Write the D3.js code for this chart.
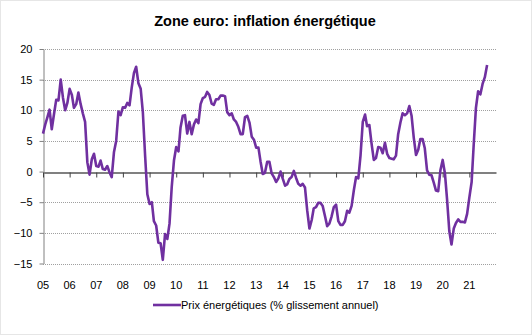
<!DOCTYPE html>
<html>
<head>
<meta charset="utf-8">
<script src="https://cdn.jsdelivr.net/npm/d3@7/dist/d3.min.js"></script>
<style>
  html, body { margin: 0; padding: 0; background: #fff; }
  svg { display: block; font-family: "Liberation Sans", Arial, sans-serif; }
</style>
</head>
<body>
<div id="chart"></div>
<script>
// Zone euro : inflation des prix de l'énergie, glissement annuel mensuel
const startYear = 2005;
const energy2005 = [6.2, 7.7, 8.8, 10.1, 6.9, 9.4, 11.7, 11.6, 15.0, 12.1, 10.0, 11.2];
const energy2006 = [13.5, 12.5, 10.4, 11.0, 12.9, 11.0, 9.5, 8.1, 1.5, -0.5, 2.0, 2.9];
const energy2007 = [0.9, 0.8, 1.8, 0.4, 0.3, 0.9, -0.1, -0.9, 3.2, 5.0, 9.8, 9.2];
const energy2008 = [10.5, 10.4, 11.2, 10.8, 13.7, 16.1, 17.1, 14.4, 13.5, 9.6, 2.5, -3.7];
const energy2009 = [-5.3, -5.0, -8.1, -8.8, -11.6, -11.7, -14.4, -10.2, -11.0, -8.5, -2.4, 1.8];
const energy2010 = [4.0, 3.3, 7.2, 9.1, 9.2, 6.2, 8.1, 6.1, 7.7, 8.5, 7.9, 11.0];
const energy2011 = [12.0, 12.2, 13.0, 12.5, 11.1, 10.9, 11.8, 11.8, 12.4, 12.4, 12.3, 9.7];
const energy2012 = [9.2, 9.5, 8.5, 8.1, 7.3, 6.1, 6.1, 8.9, 9.1, 8.0, 5.7, 5.2];
const energy2013 = [3.9, 3.9, 1.7, -0.4, -0.2, 1.6, 1.6, -0.3, -0.9, -1.7, -1.1, 0.0];
const energy2014 = [-1.2, -2.3, -2.1, -1.2, -0.9, 0.1, -1.0, -2.0, -2.3, -2.0, -2.6, -6.3];
const energy2015 = [-9.3, -7.9, -6.0, -5.8, -5.1, -5.1, -5.6, -7.2, -8.9, -8.5, -7.3, -5.8];
const energy2016 = [-5.4, -8.1, -8.7, -8.7, -8.1, -6.4, -6.7, -5.6, -3.0, -0.9, -1.1, 2.6];
const energy2017 = [8.1, 9.3, 7.4, 7.6, 4.6, 1.9, 2.2, 4.0, 3.9, 3.0, 4.7, 2.9];
const energy2018 = [2.2, 2.1, 2.0, 2.6, 6.1, 8.0, 9.5, 9.2, 9.5, 10.7, 9.1, 5.5];
const energy2019 = [2.7, 3.6, 5.3, 5.3, 3.8, 0.2, -0.5, -0.6, -1.8, -3.1, -3.2, 0.2];
const energy2020 = [1.9, -0.3, -4.5, -9.7, -11.9, -9.3, -8.4, -7.8, -8.2, -8.2, -8.3, -6.9];
const energy2021 = [-4.2, -1.7, 4.3, 10.4, 13.1, 12.6, 14.3, 15.4, 17.4];

const yTicks = [20, 15, 10, 5, 0, -5, -10, -15];
const xYears = d3.range(2005, 2022);
const seriesName = "Prix énergétiques (% glissement annuel)";
const titleText = "Zone euro: inflation énergétique";

const monthly = [].concat(energy2005, energy2006, energy2007, energy2008, energy2009,
  energy2010, energy2011, energy2012, energy2013, energy2014, energy2015, energy2016,
  energy2017, energy2018, energy2019, energy2020, energy2021);
const points = monthly.map((v, i) => ({date: new Date(startYear, i, 1), value: v}));

const width = 532, height = 335;
const margin = {left: 43, right: 36, top: 49, bottom: 72};

const svg = d3.select('#chart').append('svg')
  .attr('width', width)
  .attr('height', height);

svg.append('rect')
  .attr('x', 0.5).attr('y', 0.5)
  .attr('width', width - 1).attr('height', height - 1)
  .attr('fill', '#fff')
  .attr('stroke', '#e6e6e6');

const x = d3.scaleTime()
  .domain([new Date(2005, 0, 1), new Date(2022, 0, 1)])
  .range([margin.left, width - margin.right]);

const y = d3.scaleLinear()
  .domain([-15, 20])
  .range([height - margin.bottom + 0.5, margin.top]);

// title
svg.append('text')
  .attr('x', 265)
  .attr('y', 26)
  .attr('text-anchor', 'middle')
  .style('font-size', '14.5px')
  .style('font-weight', 'bold')
  .text(titleText);

// horizontal grid
svg.append('g')
  .selectAll('line')
  .data(yTicks.filter(d => d !== 0))
  .enter().append('line')
  .attr('x1', margin.left)
  .attr('x2', width - margin.right)
  .attr('y1', d => Math.round(y(d)) + 0.5)
  .attr('y2', d => Math.round(y(d)) + 0.5)
  .attr('stroke', '#a0a0a0')
  .attr('stroke-width', 1)
  .attr('stroke-dasharray', '1,1');

// y axis
const yAxis = svg.append('g')
  .attr('transform', `translate(${margin.left + 0.5},0)`)
  .call(d3.axisLeft(y).tickValues(yTicks).tickSize(4).tickSizeOuter(0).tickFormat(d3.format('d')));
yAxis.select('.domain').attr('stroke', '#808080');
yAxis.selectAll('.tick line').attr('stroke', '#808080');
yAxis.selectAll('.tick text')
  .attr('x', -11)
  .style('font-size', '11px')
  .style('font-family', '"Liberation Sans", Arial, sans-serif')
  .attr('fill', '#000');

// zero line with year ticks
const zeroY = Math.round(y(0)) + 0.5;
const xAxis = svg.append('g')
  .attr('transform', `translate(0,${zeroY})`)
  .call(d3.axisBottom(x).tickValues(xYears.map(yr => new Date(yr, 0, 1))).tickSize(5).tickSizeOuter(0).tickFormat(''));
xAxis.select('.domain').attr('stroke', '#808080').attr('stroke-width', 2);
xAxis.selectAll('.tick line').attr('stroke', '#404040');

// year labels along the bottom
svg.append('g')
  .selectAll('text')
  .data(xYears)
  .enter().append('text')
  .attr('x', d => x(new Date(d, 0, 1)))
  .attr('y', 289)
  .attr('text-anchor', 'middle')
  .style('font-size', '11px')
  .text(d => String(d).slice(2));

// series line
const line = d3.line()
  .x(d => x(d.date))
  .y(d => y(d.value));

svg.append('path')
  .datum(points)
  .attr('d', line)
  .attr('fill', 'none')
  .attr('stroke', '#7030A0')
  .attr('stroke-width', 2.6)
  .attr('stroke-linejoin', 'round');

// legend
const legend = svg.append('g').attr('transform', 'translate(153,305)');
legend.append('line')
  .attr('x1', 0).attr('x2', 28)
  .attr('y1', 0).attr('y2', 0)
  .attr('stroke', '#7030A0')
  .attr('stroke-width', 2.6);
legend.append('text')
  .attr('x', 28)
  .attr('y', 4)
  .style('font-size', '11px')
  .text(seriesName);
</script>
</body>
</html>
